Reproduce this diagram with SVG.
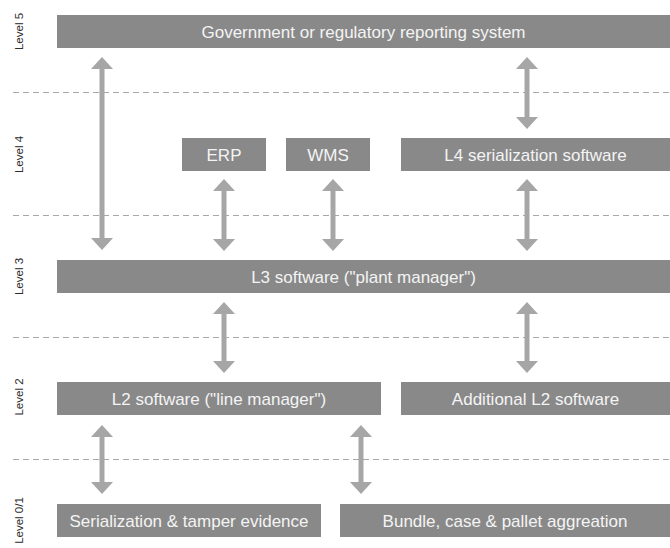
<svg xmlns="http://www.w3.org/2000/svg" width="670" height="548" viewBox="0 0 670 548">
  <defs>
    <style>
      .box { fill: #898989; }
      .bt { font-family: "Liberation Sans", Arial, sans-serif; font-size: 17px; fill: #f4f4f4; text-anchor: middle; }
      .lvl { font-family: "Liberation Sans", Arial, sans-serif; font-size: 11.5px; fill: #2b2b2b; text-anchor: middle; }
      .dash { stroke: #a8a8a8; stroke-width: 1; stroke-dasharray: 6 4; fill: none; }
      .arr { stroke: #a6a6a6; stroke-width: 5; fill: none; marker-start: url(#ah); marker-end: url(#ah); }
    </style>
    <marker id="ah" viewBox="0 0 12 22" refX="1" refY="11" markerWidth="12" markerHeight="22" markerUnits="userSpaceOnUse" orient="auto-start-reverse">
      <path d="M0,0 L12,11 L0,22 z" fill="#a6a6a6"/>
    </marker>
  </defs>
  <rect width="670" height="548" fill="#ffffff"/>

  <g id="level-labels">
    <text class="lvl" transform="translate(22.5,31.5) rotate(-90)">Level 5</text>
    <text class="lvl" transform="translate(22.5,154.5) rotate(-90)">Level 4</text>
    <text class="lvl" transform="translate(22.5,276.5) rotate(-90)">Level 3</text>
    <text class="lvl" transform="translate(22.5,397) rotate(-90)">Level 2</text>
    <text class="lvl" transform="translate(22.5,520.5) rotate(-90)">Level 0/1</text>
  </g>

  <g id="separators">
    <line class="dash" x1="13" y1="92.5" x2="670" y2="92.5"/>
    <line class="dash" x1="13" y1="215.5" x2="670" y2="215.5"/>
    <line class="dash" x1="13" y1="337.5" x2="670" y2="337.5"/>
    <line class="dash" x1="13" y1="459.5" x2="670" y2="459.5"/>
  </g>

  <g id="connectors">
    <line class="arr" x1="102" y1="68" x2="102" y2="239"/>
    <line class="arr" x1="527" y1="68" x2="527" y2="118"/>
    <line class="arr" x1="224" y1="190" x2="224" y2="240"/>
    <line class="arr" x1="333" y1="190" x2="333" y2="240"/>
    <line class="arr" x1="527" y1="190" x2="527" y2="240"/>
    <line class="arr" x1="224" y1="313" x2="224" y2="362"/>
    <line class="arr" x1="527" y1="313" x2="527" y2="362"/>
    <line class="arr" x1="102" y1="436" x2="102" y2="483"/>
    <line class="arr" x1="361" y1="436" x2="361" y2="483"/>
  </g>

  <g id="gov">
    <rect class="box" x="57" y="15" width="613" height="33"/>
    <text class="bt" x="363.5" y="37.5">Government or regulatory reporting system</text>
  </g>
  <g id="erp">
    <rect class="box" x="182" y="138" width="84" height="33"/>
    <text class="bt" x="224" y="160.5">ERP</text>
  </g>
  <g id="wms">
    <rect class="box" x="286" y="138" width="84" height="33"/>
    <text class="bt" x="328" y="160.5">WMS</text>
  </g>
  <g id="l4">
    <rect class="box" x="401" y="138" width="269" height="33"/>
    <text class="bt" x="535.5" y="160.5">L4 serialization software</text>
  </g>
  <g id="l3">
    <rect class="box" x="57" y="260" width="613" height="33"/>
    <text class="bt" x="363.5" y="282.5">L3 software ("plant manager")</text>
  </g>
  <g id="l2">
    <rect class="box" x="57" y="382" width="324" height="33"/>
    <text class="bt" x="219" y="404.5">L2 software ("line manager")</text>
  </g>
  <g id="l2-additional">
    <rect class="box" x="401" y="382" width="269" height="33"/>
    <text class="bt" x="535.5" y="404.5">Additional L2 software</text>
  </g>
  <g id="serialization">
    <rect class="box" x="57" y="504" width="264" height="33"/>
    <text class="bt" x="189" y="526.5">Serialization &amp; tamper evidence</text>
  </g>
  <g id="aggregation">
    <rect class="box" x="340" y="504" width="330" height="33"/>
    <text class="bt" x="505" y="526.5">Bundle, case &amp; pallet aggreation</text>
  </g>
</svg>
